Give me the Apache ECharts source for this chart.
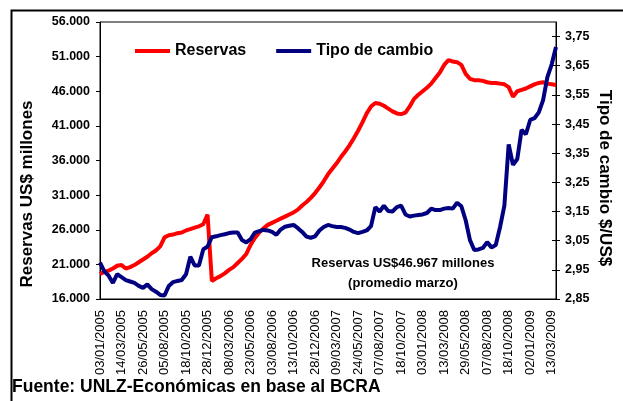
<!DOCTYPE html>
<html>
<head>
<meta charset="utf-8">
<script src="https://cdn.jsdelivr.net/npm/echarts@6/dist/echarts.min.js"></script>
<style>
  html, body { margin: 0; padding: 0; background: #fff; }
  #chart { width: 623px; height: 401px; }
</style>
</head>
<body>
<div id="chart"></div>
<script>
// etiquetas del eje x (una cada 5 puntos)
var tickLabels = ['03/01/2005', '14/03/2005', '26/05/2005', '05/08/2005', '18/10/2005', '28/12/2005',
  '08/03/2006', '23/05/2006', '03/08/2006', '13/10/2006', '28/12/2006', '09/03/2007', '24/05/2007',
  '07/08/2007', '18/10/2007', '03/01/2008', '13/03/2008', '29/05/2008', '07/08/2008', '18/10/2008',
  '02/01/2009', '13/03/2009'];

// Reservas, US$ millones
var reservas = [19600, 19900, 20100, 20400, 20800, 20900, 20400, 20600, 20900, 21300,
  21700, 22100, 22600, 23000, 23600, 24900, 25200, 25300, 25500, 25600,
  25900, 26100, 26300, 26500, 26800, 28200, 18600, 19000, 19300, 19700,
  20200, 20600, 21200, 21800, 22500, 23800, 24800, 25600, 26200, 26700,
  27000, 27300, 27600, 27900, 28200, 28500, 28900, 29500, 30000, 30600,
  31300, 32100, 33000, 34000, 34800, 35600, 36500, 37300, 38200, 39200,
  40300, 41500, 42800, 43800, 44300, 44200, 43900, 43500, 43100, 42800,
  42700, 42900, 43800, 44900, 45500, 46000, 46500, 47100, 47900, 48700,
  49800, 50500, 50300, 50200, 49800, 48500, 47800, 47600, 47600, 47500,
  47300, 47200, 47200, 47100, 47000, 46600, 45200, 46000, 46200, 46400,
  46700, 47000, 47200, 47300, 47100, 47000, 46900];

// Tipo de cambio, $/US$
var tipoCambio = [2.975, 2.945, 2.93, 2.905, 2.935, 2.925, 2.915, 2.91, 2.905, 2.895,
  2.888, 2.9, 2.884, 2.875, 2.864, 2.862, 2.895, 2.908, 2.912, 2.915,
  2.935, 2.995, 2.965, 2.965, 3.02, 3.03, 3.062, 3.065, 3.069, 3.072,
  3.076, 3.078, 3.078, 3.052, 3.044, 3.055, 3.078, 3.083, 3.087, 3.085,
  3.08, 3.07, 3.088, 3.098, 3.101, 3.104, 3.093, 3.08, 3.064, 3.06,
  3.065, 3.085, 3.097, 3.104, 3.1, 3.097, 3.097, 3.094, 3.088, 3.08,
  3.076, 3.08, 3.085, 3.1, 3.165, 3.15, 3.17, 3.152, 3.15, 3.165,
  3.17, 3.14, 3.133, 3.136, 3.138, 3.14, 3.145, 3.16, 3.155, 3.155,
  3.16, 3.162, 3.16, 3.18, 3.168, 3.12, 3.052, 3.018, 3.02, 3.025,
  3.045, 3.027, 3.035, 3.097, 3.17, 3.38, 3.31, 3.33, 3.43, 3.415,
  3.464, 3.47, 3.49, 3.532, 3.611, 3.655, 3.714];

var leftTicks = [16000, 21000, 26000, 31000, 36000, 41000, 46000, 51000, 56000];
var rightTicks = [2.85, 2.95, 3.05, 3.15, 3.25, 3.35, 3.45, 3.55, 3.65, 3.75];

var FONT = 'Liberation Sans, Arial, sans-serif';

// categorias: la fecha cada 5 puntos, el resto vacio
var categories = [];
for (var i = 0; i < reservas.length; i++) {
  categories.push(i % 5 === 0 ? tickLabels[i / 5] : '');
}

function fmtMiles(v) {
  return String(Math.round(v)).replace(/\B(?=(\d{3})+(?!\d))/g, '.');
}

var chart = echarts.init(document.getElementById('chart'));
var option = {
  backgroundColor: '#fff',
  animation: false,
  textStyle: {fontFamily: FONT},
  grid: {
    left: 100, right: 67, top: 22, bottom: 102,
    show: true, borderColor: '#000', borderWidth: 1, backgroundColor: '#fff'
  },
  legend: {
    left: 130, top: 38,
    itemWidth: 35, itemHeight: 4, itemGap: 30,
    icon: 'rect',
    textStyle: {fontFamily: FONT, fontSize: 16, fontWeight: 'bold', color: '#000'},
    data: ['Reservas', 'Tipo de cambio']
  },
  xAxis: {
    type: 'category',
    boundaryGap: false,
    data: categories,
    axisLine: {lineStyle: {color: '#000', width: 1}},
    axisTick: {show: false},
    axisLabel: {
      interval: 4, rotate: 90, margin: 11,
      fontFamily: FONT, fontSize: 13, color: '#000'
    },
    splitLine: {show: false}
  },
  yAxis: [
    {
      type: 'value', position: 'left',
      min: 16000, max: 56000,
      axisLine: {show: true, lineStyle: {color: '#000', width: 1}},
      axisTick: {show: true, length: 4, lineStyle: {color: '#000'}, customValues: leftTicks},
      axisLabel: {
        customValues: leftTicks, margin: 10,
        fontFamily: FONT, fontSize: 12.5, fontWeight: 'bold', color: '#000',
        formatter: fmtMiles
      },
      splitLine: {show: false}
    },
    {
      type: 'value', position: 'right',
      min: 2.85, max: 3.80,
      axisLine: {show: true, lineStyle: {color: '#000', width: 1}},
      axisTick: {show: true, length: 4, lineStyle: {color: '#000'}, customValues: rightTicks},
      axisLabel: {
        customValues: rightTicks, margin: 9,
        fontFamily: FONT, fontSize: 12.5, fontWeight: 'bold', color: '#000',
        formatter: function (v) { return v.toFixed(2).replace('.', ','); }
      },
      splitLine: {show: false}
    },
    {
      // marcas hacia adentro del eje derecho
      type: 'value', position: 'right',
      min: 2.85, max: 3.80,
      axisLine: {show: false},
      axisTick: {show: true, inside: true, length: 4, lineStyle: {color: '#000'}, customValues: rightTicks},
      axisLabel: {show: false},
      splitLine: {show: false}
    }
  ],
  series: [
    {
      name: 'Reservas', type: 'line', yAxisIndex: 0,
      data: reservas, showSymbol: false, symbol: 'none',
      lineStyle: {color: '#ff0000', width: 4},
      itemStyle: {color: '#ff0000'},
      z: 2
    },
    {
      name: 'Tipo de cambio', type: 'line', yAxisIndex: 1,
      data: tipoCambio, showSymbol: false, symbol: 'none',
      lineStyle: {color: '#000080', width: 4},
      itemStyle: {color: '#000080'},
      z: 3
    }
  ],
  graphic: [
    {
      type: 'rect', left: 9, top: 8, silent: true,
      shape: {width: 700, height: 500},
      style: {fill: null, stroke: '#000', lineWidth: 2}
    },
    {
      type: 'text', x: 27, y: 194, rotation: Math.PI / 2,
      style: {text: 'Reservas US$ millones', fontFamily: FONT, fontSize: 17, fontWeight: 'bold',
        fill: '#000', align: 'center', verticalAlign: 'middle'}
    },
    {
      type: 'text', x: 605, y: 178, rotation: -Math.PI / 2,
      style: {text: 'Tipo de cambio $/US$', fontFamily: FONT, fontSize: 17, fontWeight: 'bold',
        fill: '#000', align: 'center', verticalAlign: 'middle'}
    },
    {
      type: 'text', x: 403, y: 263,
      style: {text: 'Reservas US$46.967 millones', fontFamily: FONT, fontSize: 13, fontWeight: 'bold',
        fill: '#000', align: 'center', verticalAlign: 'middle'}
    },
    {
      type: 'text', x: 403, y: 283,
      style: {text: '(promedio marzo)', fontFamily: FONT, fontSize: 13, fontWeight: 'bold',
        fill: '#000', align: 'center', verticalAlign: 'middle'}
    },
    {
      type: 'text', x: 12, y: 387,
      style: {text: 'Fuente: UNLZ-Económicas en base al BCRA', fontFamily: FONT, fontSize: 17.5,
        fontWeight: 'bold', fill: '#000', align: 'left', verticalAlign: 'middle'}
    }
  ]
};
chart.setOption(option);
</script>
</body>
</html>
